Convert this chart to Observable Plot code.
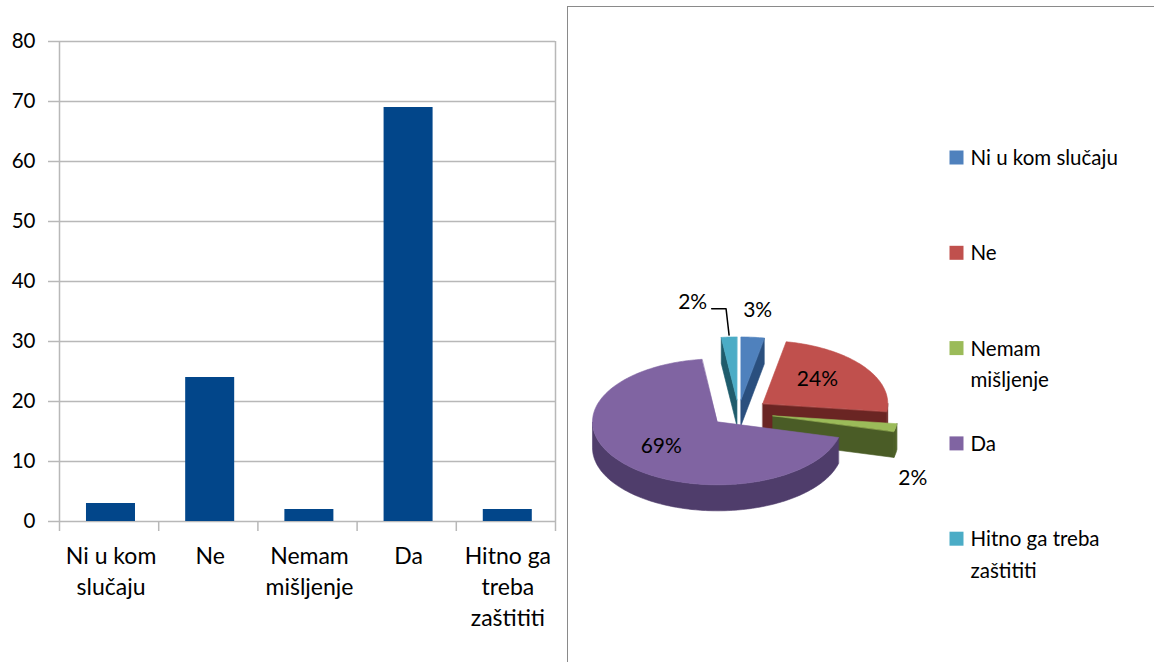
<!DOCTYPE html>
<html><head><meta charset="utf-8">
<script src="https://cdn.jsdelivr.net/npm/d3@7"></script>
<script src="https://cdn.jsdelivr.net/npm/@observablehq/plot@0.6"></script>
<style>
html,body{margin:0;padding:0;background:#fff;}
#wrap{position:relative;width:1154px;height:662px;overflow:hidden;font-family:Lato,"Open Sans",sans-serif;}
#bar{position:absolute;left:0;top:0;}
#pie{position:absolute;left:567px;top:0;}
#border{position:absolute;left:567px;top:6px;width:620px;height:700px;border-left:1.5px solid #8a8a8a;border-top:1.5px solid #8a8a8a;}
</style></head>
<body><div id="wrap"><div id="bar"></div><div id="border"></div><div id="pie"></div></div>
<script>
// ---- data ----
const categories = ["Ni u kom slučaju", "Ne", "Nemam mišljenje", "Da", "Hitno ga treba zaštititi"];
const values = [3, 24, 2, 69, 2];
const axisLabels = ["Ni u kom\nslučaju", "Ne", "Nemam\nmišljenje", "Da", "Hitno ga\ntreba\nzaštititi"];
const legendLabels = ["Ni u kom slučaju", "Ne", "Nemam\nmišljenje", "Da", "Hitno ga treba\nzaštititi"];
const percentLabels = ["3%", "24%", "2%", "69%", "2%"];
const yTicks = [0, 10, 20, 30, 40, 50, 60, 70, 80];
const sliceColors = ["#4F81BD", "#C0504D", "#9BBB59", "#8064A2", "#4BACC6"];
const wallShades = ["#2e5587", "#6e2826", "#4f6228", "#4f3d6b", "#25687a"];
const faceShades = ["#2a4f7e", "#6a2523", "#4a5c26", "#46365f", "#1f5c6c"];

const font = "Lato, 'Open Sans', sans-serif";
const grid = "#b8b8b8";

// ---- bar chart ----
const idx = values.map((d, i) => i);
const bar = Plot.plot({
  width: 567, height: 662,
  marginLeft: 59, marginRight: 12, marginTop: 41, marginBottom: 141,
  x: {domain: [0, categories.length], axis: null},
  y: {domain: [0, 80], axis: null},
  style: {fontFamily: font, fontSize: "20px", color: "#000", background: "transparent"},
  marks: [
    Plot.gridY(yTicks, {stroke: grid, strokeOpacity: 1, strokeWidth: 1.5}),
    Plot.ruleX([0, categories.length], {stroke: grid, strokeWidth: 1.5}),
    Plot.axisY(yTicks, {tickSize: 11, tickPadding: 13, stroke: grid, strokeWidth: 1.5, fill: "#000", fontSize: 20.5}),
    Plot.axisX(d3.range(categories.length + 1), {tickSize: 10, tickFormat: () => "", stroke: grid, strokeWidth: 1.5}),
    Plot.rect(idx, {x1: i => i + 0.272, x2: i => i + 0.766, y1: 0, y2: i => values[i], fill: "#02468a"}),
    Plot.text(idx, {x: i => i + 0.52, y: 0, text: i => axisLabels[i], dy: 21, lineAnchor: "top", lineHeight: 1.34, fontSize: 23, fill: "#000"})
  ]
});
document.getElementById("bar").append(bar);

// ---- 3D exploded pie ----
const cx = 171, cy = 412, rx = 125, ry = 63, depth = 26;
const explode = [25, 30, 35, 28, 25];
const arcs = d3.pie().sort(null).value(d => d)(values);
const pt = (c, t, down = 0) => [c[0] + rx * Math.sin(t), c[1] - ry * Math.cos(t) + down];
const arcPts = (c, t0, t1, down = 0) => {
  const n = Math.max(2, Math.ceil((t1 - t0) / 0.02));
  return d3.range(n + 1).map(k => pt(c, t0 + (t1 - t0) * k / n, down));
};
const slices = arcs.map((p, i) => {
  const mid = (p.startAngle + p.endAngle) / 2;
  const e = explode[i];
  const c = [cx + e * Math.sin(mid), cy - e * Math.cos(mid) * ry / rx];
  return {i, a0: p.startAngle, a1: p.endAngle, mid, c};
});
const order = d3.sort(slices, s => -Math.cos(s.mid));
const polys = [];
let pid = 0;
const addPoly = (points, fill) => { const id = pid++; points.forEach(([x, y]) => polys.push({id, x, y, fill})); };
for (const s of order) {
  const {c, a0, a1, i} = s;
  const w0 = Math.max(a0, Math.PI / 2), w1 = Math.min(a1, 3 * Math.PI / 2);
  if (w1 > w0) addPoly([...arcPts(c, w0, w1, 0), ...arcPts(c, w0, w1, depth).reverse()], wallShades[i]);
  if (Math.sin(a0) < -1e-6) addPoly([c, pt(c, a0), pt(c, a0, depth), [c[0], c[1] + depth]], faceShades[i]);
  if (Math.sin(a1) > 1e-6) addPoly([c, pt(c, a1), pt(c, a1, depth), [c[0], c[1] + depth]], faceShades[i]);
  addPoly([c, ...arcPts(c, a0, a1, 0)], sliceColors[i]);
}

// label placement (radial factor and shift)
const labR = [1.43, 0.6, 1.14, 0.6, 1.56];
const labShift = [[0, 0], [-6, -2], [0, 49], [0, -1], [-32, 0]];
const labels = slices.map(s => {
  const p = [s.c[0] + rx * labR[s.i] * Math.sin(s.mid) + labShift[s.i][0],
             s.c[1] - ry * labR[s.i] * Math.cos(s.mid) + labShift[s.i][1]];
  return {x: p[0], y: p[1], text: percentLabels[s.i]};
});
// leader line for last small slice
const ls = slices[4];
const edge = pt(ls.c, ls.mid);
const lab = labels[4];
const leader = [[lab.x + 19, lab.y + 7], [edge[0] - 3, lab.y + 7], [edge[0], edge[1] - 2]].map(([x, y]) => ({x, y}));

// legend
const legY0 = 157, legStep = 95.3, legX = 382;
const legend = categories.map((d, i) => ({i, y: legY0 + i * legStep}));

const pieChart = Plot.plot({
  width: 587, height: 662,
  margin: 0,
  x: {domain: [0, 587], range: [0, 587], axis: null},
  y: {domain: [0, 662], range: [0, 662], axis: null},
  color: {type: "identity"},
  style: {fontFamily: font, fontSize: "20px", color: "#000", background: "transparent"},
  marks: [
    Plot.line(polys, {x: "x", y: "y", z: "id", fill: "fill", stroke: "fill", strokeWidth: 0.6, curve: "linear-closed"}),
    Plot.line(leader, {x: "x", y: "y", stroke: "#000", strokeWidth: 1.5}),
    Plot.text(labels, {x: "x", y: "y", text: "text", fontSize: 21, fill: "#000"}),
    Plot.dot(legend, {x: legX + 7, y: "y", symbol: "square", r: 7.9, fill: d => sliceColors[d.i], stroke: null}),
    Plot.text(legend, {x: legX + 21, y: d => d.y - 15, text: d => legendLabels[d.i], textAnchor: "start", lineAnchor: "top", lineHeight: 1.55, fontSize: 20.5, fill: "#000"})
  ]
});
document.getElementById("pie").append(pieChart);
</script>
</body></html>
